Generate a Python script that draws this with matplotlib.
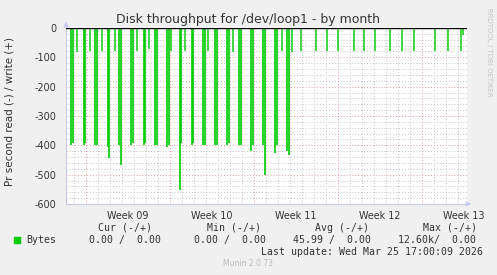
import matplotlib
matplotlib.use('Agg')
import matplotlib.pyplot as plt

W, H = 497, 275

# hours since start of week 09
deep_hours = [-28.8, -25.4, -4.0, -0.8, 19.2, 23.2, 44.0, 47.2, 67.2, 71.2,
              91.2, 95.2, 116.0, 119.2, 139.2, 143.2, 162.6, 166.6, 189.2, 191.6,
              212.0, 215.2, 235.2, 239.2, 259.2, 263.2, 283.2, 287.2, 307.2, 311.2,
              331.2, 335.2, 355.2, 359.2, 379.2, 383.2, 403.2, 407.2]
deep_vals = [-399, -392, -399, -392, -399, -399, -406, -444, -399, -467,
             -399, -392, -399, -392, -399, -399, -404, -399, -552, -392,
             -399, -392, -399, -399, -399, -399, -399, -392, -399, -399,
             -418, -399, -399, -501, -427, -399, -421, -433]

small_hours = [-16.8, 9.0, 33.6, 58.2, 103.6, 127.2, 170.6, 199.0, 245.6, 295.2,
               392.0, 412.0, 430.6, 460.6, 482.0, 504.0, 537.2, 557.2, 579.2, 608.6,
               633.2, 656.6, 698.6, 725.2, 751.2, 755.2]
small_vals = [-82, -78, -80, -80, -80, -72, -78, -80, -80, -81,
              -80, -82, -80, -80, -80, -80, -80, -80, -80, -80,
              -80, -80, -80, -80, -80, -25]

week_labels = ['Week 09', 'Week 10', 'Week 11', 'Week 12', 'Week 13']
week_centers = [84, 252, 420, 588, 756]
week_bounds = [0, 168, 336, 504, 672]
day_lines = [h for h in range(-24, 761, 24) if h % 168 != 0]

legend_head = ['Cur (-/+)', 'Min (-/+)', 'Avg (-/+)', 'Max (-/+)']
legend_vals = ['0.00 /  0.00', '0.00 /  0.00', '45.99 /  0.00', '12.60k/  0.00']

fig = plt.figure(figsize=(W / 100, H / 100), dpi=100, facecolor='#F0F0F0')
ax = fig.add_axes([66 / W, 1 - 204 / H, 401 / W, 176 / H], facecolor='white')

x0, x1 = -39.4, 762.6
ax.set_xlim(x0, x1)
ax.set_ylim(-600, 0)

# grid
minor = dict(color='#C4C4C4', lw=0.7, ls=(0, (1, 2)), zorder=0)
major = dict(color='#E49A9A', lw=0.7, ls=(0, (1, 2)), zorder=0)
for y in range(-580, 0, 20):
    ax.axhline(y, **(major if y % 100 == 0 else minor))
for h in day_lines:
    ax.axvline(h, **minor)
for h in week_bounds:
    ax.axvline(h, **major)

# spikes
ax.vlines(deep_hours, deep_vals, 0, color='#00CC00', lw=1.2, zorder=2)
ax.vlines(small_hours, small_vals, 0, color='#22D022', lw=1.2, zorder=2)
ax.axhline(0, color='black', lw=1.0, zorder=3)

for s in ['top', 'right']:
    ax.spines[s].set_visible(False)
for s in ['left', 'bottom']:
    ax.spines[s].set_color('#C8C8E8')
    ax.spines[s].set_linewidth(0.8)

ax.set_xticks(week_centers)
ax.set_xticklabels(week_labels)
ax.set_yticks(range(-600, 1, 100))
ax.set_yticklabels([str(v) for v in range(-600, 1, 100)])
ax.tick_params(length=0, labelsize=6.9, colors='#333333', pad=5)
ax.tick_params(axis='y', pad=7)

# axis arrows
ax.annotate('', xy=(66 / W, 1 - 19 / H), xytext=(66 / W, 1 - 28 / H),
            xycoords='figure fraction',
            arrowprops=dict(arrowstyle='-|>', color='#C8C8F8', lw=0.8, mutation_scale=7))
ax.annotate('', xy=(474 / W, 1 - 204 / H), xytext=(466 / W, 1 - 204 / H),
            xycoords='figure fraction',
            arrowprops=dict(arrowstyle='-|>', color='#C8C8F8', lw=0.8, mutation_scale=7))


def ftext(x, y, s, **kw):
    fig.text(x / W, 1 - y / H, s, **kw)


ftext(248, 19, 'Disk throughput for /dev/loop1 - by month', ha='center', va='center',
      fontsize=9, color='#333333')
ftext(10, 112, 'Pr second read (-) / write (+)', ha='center', va='center',
      rotation=90, fontsize=7.5, color='#333333')
ftext(489, 52, 'RRDTOOL / TOBI OETIKER', ha='center', va='center',
      rotation=270, fontsize=5, color='#C8C8C8')

mono = dict(family='DejaVu Sans Mono', fontsize=7.1, color='#333333', va='center')
for x, s in zip([98, 207, 315, 423], legend_head):
    ftext(x, 228, s, ha='left', **mono)
fig.patches.append(plt.Rectangle((14 / W, 1 - 243 / H), 6 / W, 6 / H,
                                 transform=fig.transFigure, color='#00CC00'))
ftext(26, 240, 'Bytes', ha='left', **mono)
for x, s in zip([89, 194, 293, 398], legend_vals):
    ftext(x, 240, s, ha='left', **mono)
ftext(483, 252, 'Last update: Wed Mar 25 17:00:09 2026', ha='right', **mono)
ftext(248, 264, 'Munin 2.0.73', ha='center', va='center', fontsize=5.5, color='#BBBBBB')

fig.savefig('out.png', dpi=100, facecolor=fig.get_facecolor())
